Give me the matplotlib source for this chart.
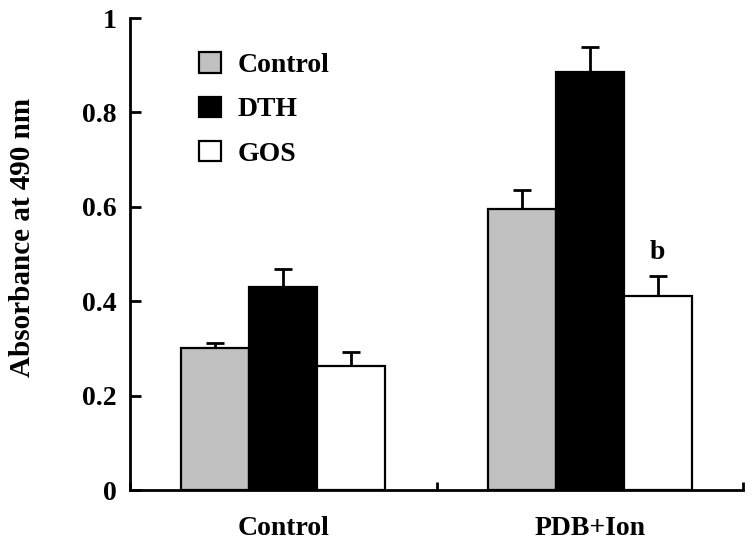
import numpy as np
import matplotlib
matplotlib.use("Agg")
import matplotlib.pyplot as plt

# data
groups = ["Control", "PDB+Ion"]
series = ["Control", "DTH", "GOS"]
control_vals = [0.300, 0.595]
control_err = [0.012, 0.040]
dth_vals = [0.430, 0.886]
dth_err = [0.038, 0.052]
gos_vals = [0.262, 0.412]
gos_err = [0.030, 0.042]
yticks = [0, 0.2, 0.4, 0.6, 0.8, 1.0]
ytick_labels = ["0", "0.2", "0.4", "0.6", "0.8", "1"]

plt.rcParams["font.family"] = ["Liberation Serif", "DejaVu Serif"]
plt.rcParams["font.weight"] = "bold"

fig = plt.figure(figsize=(7.52, 5.52), dpi=100)
ax = fig.add_axes([130 / 752, 1 - 490 / 552, 613 / 752, 472 / 552])

x = np.arange(len(groups))
w = 0.222
colors = ["#c0c0c0", "black", "white"]
vals = [control_vals, dth_vals, gos_vals]
errs = [control_err, dth_err, gos_err]

for i, (name, v, e, c) in enumerate(zip(series, vals, errs, colors)):
    pos = x + (i - 1) * w
    ax.bar(pos, v, width=w, color=c, edgecolor="black", linewidth=1.6,
           label=name, zorder=2)
    # only the upper half of the error bar is drawn
    ax.errorbar(pos, v, yerr=[np.zeros(len(e)), e], fmt="none", ecolor="black",
                elinewidth=2, capsize=6.5, capthick=2, zorder=1)

# significance mark
ax.text(x[1] + w, gos_vals[1] + gos_err[1] + 0.022, "b", ha="center",
        va="bottom", fontsize=20, fontweight="bold")

ax.set_xlim(-0.5, 1.5)
ax.set_ylim(0, 1.0)
ax.set_yticks(yticks)
ax.set_yticklabels(ytick_labels)
ax.set_xticks([-0.5, 0.5, 1.5])
ax.set_xticklabels([])
ax.set_xticks(x, minor=True)
ax.set_xticklabels(groups, minor=True)
ax.tick_params(axis="x", which="minor", length=0, pad=19, labelsize=20)
ax.tick_params(axis="x", which="major", direction="in", length=6, width=2)
ax.tick_params(axis="y", direction="in", length=8, width=2, pad=9.5, labelsize=20)

for s in ["top", "right"]:
    ax.spines[s].set_visible(False)
for s in ["left", "bottom"]:
    ax.spines[s].set_linewidth(2)

ax.set_ylabel("Absorbance at 490 nm", fontsize=21, fontweight="bold")
ax.yaxis.set_label_coords(-0.153, 0.536)

ax.legend(loc="upper left", bbox_to_anchor=(0.071, 0.98), frameon=False,
          fontsize=20, handlelength=0.8, handleheight=0.75, labelspacing=0.66,
          handletextpad=0.6)

fig.savefig("out.png", dpi=100)
